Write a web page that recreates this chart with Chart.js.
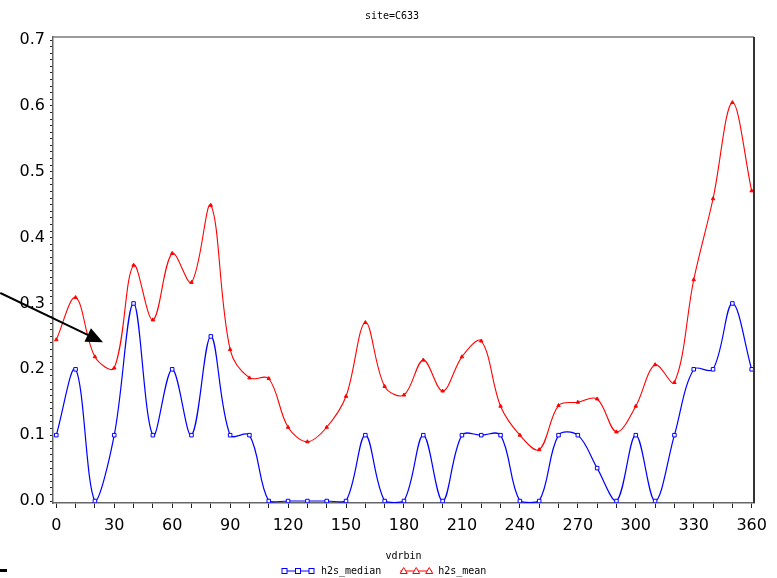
<!DOCTYPE html>
<html lang="en">
<head>
<meta charset="UTF-8">
<title>site=C633</title>
<script src="https://cdn.jsdelivr.net/npm/chart.js"></script>
<style>
  body { margin: 0; background: #fff; }
  canvas { display: block; }
</style>
</head>
<body>
<canvas id="h2sChart" width="777" height="578"></canvas>
<script>
// wind direction bins
const vdrbin = [0, 10, 20, 30, 40, 50, 60, 70, 80, 90, 100, 110, 120, 130, 140, 150, 160, 170, 180,
                190, 200, 210, 220, 230, 240, 250, 260, 270, 280, 290, 300, 310, 320, 330, 340, 350, 360];

const h2sMedian = [0.10, 0.20, 0.00, 0.10, 0.30, 0.10, 0.20, 0.10, 0.25, 0.10, 0.10, 0.00, 0.00, 0.00,
                   0.00, 0.00, 0.10, 0.00, 0.00, 0.10, 0.00, 0.10, 0.10, 0.10, 0.00, 0.00, 0.10, 0.10,
                   0.05, 0.00, 0.10, 0.00, 0.10, 0.20, 0.20, 0.30, 0.20];

const h2sMean = [0.245, 0.309, 0.219, 0.202, 0.358, 0.275, 0.376, 0.332, 0.449, 0.230, 0.187, 0.186,
                 0.112, 0.090, 0.112, 0.159, 0.271, 0.174, 0.161, 0.214, 0.167, 0.219, 0.243, 0.144,
                 0.100, 0.078, 0.145, 0.150, 0.155, 0.105, 0.144, 0.207, 0.180, 0.336, 0.459, 0.605, 0.471];

const xTickLabels = ['0', '30', '60', '90', '120', '150', '180', '210', '240', '270', '300', '330', '360'];
const yTickLabels = ['0.0', '0.1', '0.2', '0.3', '0.4', '0.5', '0.6', '0.7'];

const chartTitle = 'site=C633';
const xTitle = 'vdrbin';

// arrow annotation (data coords): tail off the left edge, head near (24, 0.24)
const arrowFrom = [-29, 0.316];
const arrowTo = [24.2, 0.241];

// minor y ticks every 0.01
const yTickValues = [];
for (let i = 0; i <= 70; i++) yTickValues.push(i / 100);

const monoFont = '10px "DejaVu Sans Mono"';

function drawSquare(ctx, cx, cy) {
    ctx.fillStyle = '#fff';
    ctx.fillRect(cx - 2.5, cy - 2.5, 5, 5);
    ctx.strokeRect(cx - 2.5, cy - 2.5, 5, 5);
}
function drawTriangle(ctx, cx, cy) {
    ctx.beginPath();
    ctx.moveTo(cx, cy - 3.5);
    ctx.lineTo(cx + 3.5, cy + 2.5);
    ctx.lineTo(cx - 3.5, cy + 2.5);
    ctx.closePath();
    ctx.fillStyle = '#fff';
    ctx.fill();
    ctx.stroke();
}

const decorations = {
    id: 'decorations',
    afterDraw(chart) {
        const { ctx, chartArea: a, scales: { x, y } } = chart;
        ctx.save();

        // top and right frame
        ctx.strokeStyle = '#7a7a7a';
        ctx.lineWidth = 1.5;
        ctx.beginPath();
        ctx.moveTo(a.left, a.top);
        ctx.lineTo(a.right, a.top);
        ctx.stroke();
        ctx.strokeStyle = '#333';
        ctx.lineWidth = 2;
        ctx.beginPath();
        ctx.moveTo(a.right, a.top);
        ctx.lineTo(a.right, a.bottom);
        ctx.stroke();

        // titles
        ctx.fillStyle = '#000';
        ctx.font = monoFont;
        ctx.textAlign = 'center';
        ctx.textBaseline = 'middle';
        ctx.fillText(chartTitle, 392, 16);
        ctx.fillText(xTitle, (a.left + a.right) / 2, 556);

        // legend
        const ds = chart.data.datasets;
        const ly = 571;
        let lx = 283;
        ctx.textAlign = 'left';
        ctx.lineWidth = 1;
        ctx.strokeStyle = ds[0].borderColor;
        ctx.beginPath(); ctx.moveTo(lx, ly); ctx.lineTo(lx + 30, ly); ctx.stroke();
        [lx + 1.5, lx + 15, lx + 28.5].forEach(px => drawSquare(ctx, px, ly));
        lx += 38;
        ctx.fillStyle = '#000';
        ctx.fillText(ds[0].label, lx, ly);
        lx += ctx.measureText(ds[0].label).width + 19;
        ctx.strokeStyle = ds[1].borderColor;
        ctx.beginPath(); ctx.moveTo(lx, ly); ctx.lineTo(lx + 32, ly); ctx.stroke();
        [lx + 3.5, lx + 16, lx + 29].forEach(px => drawTriangle(ctx, px, ly));
        lx += 38;
        ctx.fillStyle = '#000';
        ctx.fillText(ds[1].label, lx, ly);

        // arrow
        const x0 = x.getPixelForValue(arrowFrom[0]), y0 = y.getPixelForValue(arrowFrom[1]);
        const x1 = x.getPixelForValue(arrowTo[0]), y1 = y.getPixelForValue(arrowTo[1]);
        const ang = Math.atan2(y1 - y0, x1 - x0);
        const headLen = 17, headHalf = 7.5;
        const bx = x1 - headLen * Math.cos(ang), by = y1 - headLen * Math.sin(ang);
        ctx.strokeStyle = '#000';
        ctx.lineWidth = 2;
        ctx.beginPath(); ctx.moveTo(x0, y0); ctx.lineTo(bx, by); ctx.stroke();
        ctx.fillStyle = '#000';
        ctx.beginPath();
        ctx.moveTo(x1, y1);
        ctx.lineTo(bx + headHalf * Math.sin(ang), by - headHalf * Math.cos(ang));
        ctx.lineTo(bx - headHalf * Math.sin(ang), by + headHalf * Math.cos(ang));
        ctx.closePath();
        ctx.fill();

        // stray mark bottom-left
        ctx.fillRect(0, 569, 7, 3);

        ctx.restore();
    }
};

const ctx = document.getElementById('h2sChart').getContext('2d');
const chart = new Chart(ctx, {
    type: 'line',
    data: {
        datasets: [
            {
                label: 'h2s_median',
                data: vdrbin.map((v, i) => ({ x: v, y: h2sMedian[i] })),
                borderColor: '#0000ff',
                borderWidth: 1.2,
                tension: 0.35,
                pointStyle: 'rect',
                pointRadius: 2.5,
                pointBorderWidth: 1,
                pointBackgroundColor: '#fff',
                pointBorderColor: '#0000ff',
                clip: { left: 5, right: 5, top: 5, bottom: 0 },
            },
            {
                label: 'h2s_mean',
                data: vdrbin.map((v, i) => ({ x: v, y: h2sMean[i] })),
                borderColor: '#ff0000',
                borderWidth: 1.1,
                tension: 0.35,
                pointStyle: 'triangle',
                pointRadius: 2,
                pointBorderWidth: 1,
                pointBackgroundColor: '#ff0000',
                pointBorderColor: '#ff0000',
            },
        ],
    },
    options: {
        responsive: false,
        animation: false,
        events: [],
        layout: { padding: { top: 37, right: 23, left: 0, bottom: 0 } },
        plugins: {
            legend: { display: false },
            title: { display: false },
            tooltip: { enabled: false },
        },
        scales: {
            x: {
                type: 'linear',
                min: -1.7,
                max: 361.2,
                afterBuildTicks: axis => { axis.ticks = vdrbin.map(v => ({ value: v })); },
                afterFit: axis => { axis.height = 75; },
                grid: { drawOnChartArea: false, drawTicks: true, tickLength: 5, color: '#222', lineWidth: 1 },
                border: { display: true, color: '#666', width: 1.5 },
                ticks: {
                    autoSkip: false,
                    maxRotation: 0,
                    padding: 8,
                    color: '#000',
                    font: { family: 'DejaVu Sans', size: 16 },
                    callback: v => (xTickLabels.includes(String(v)) ? String(v) : ''),
                },
            },
            y: {
                min: -0.003,
                max: 0.7046,
                afterBuildTicks: axis => { axis.ticks = yTickValues.map(v => ({ value: v })); },
                afterFit: axis => { axis.width = 53; },
                grid: { drawOnChartArea: false, drawTicks: true, tickLength: 3, color: '#222', lineWidth: 1 },
                border: { display: true, color: '#666', width: 1.5 },
                ticks: {
                    autoSkip: false,
                    padding: 5,
                    color: '#000',
                    font: { family: 'DejaVu Sans', size: 16 },
                    callback: v => {
                        const k = Math.round(v * 100);
                        return k % 10 === 0 ? yTickLabels[k / 10] : '';
                    },
                },
            },
        },
    },
    plugins: [decorations],
});
</script>
</body>
</html>
